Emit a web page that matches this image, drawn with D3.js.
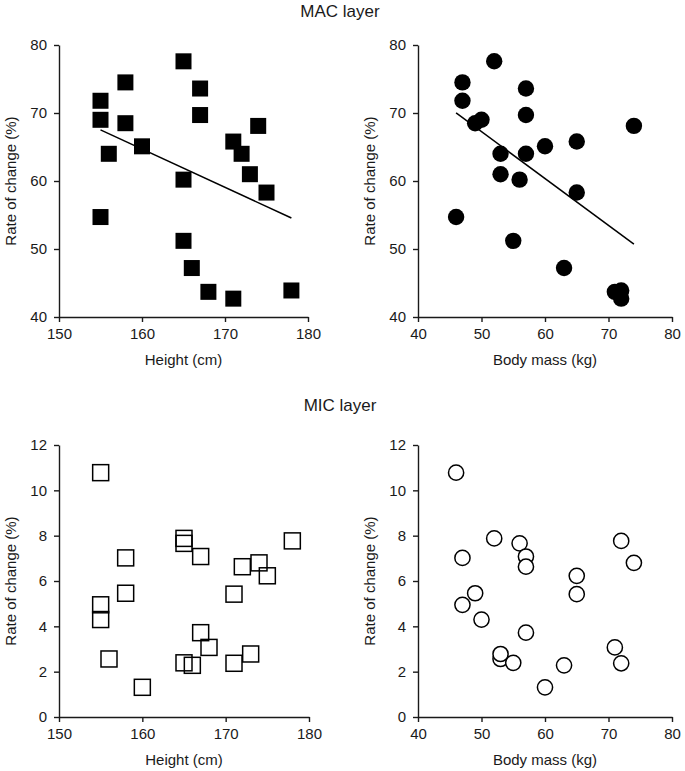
<!DOCTYPE html>
<html>
<head>
<meta charset="utf-8">
<script src="https://cdn.jsdelivr.net/npm/d3@7"></script>
<style>
  html, body { margin: 0; padding: 0; background: #fff; }
  svg { display: block; font-family: "Liberation Sans", Arial, sans-serif; }
  .tick text { fill: #1a1a1a; }
</style>
</head>
<body>
<svg id="chart" width="685" height="771"></svg>
<script>
// Subject data (same 21 subjects in all four panels)
const heights = [155, 155, 156, 155, 158, 158, 160, 165, 165, 165, 166, 167, 167, 168, 171, 171, 172, 173, 174, 175, 178];
const masses  = [47, 50, 53, 46, 47, 49, 60, 52, 56, 55, 63, 57, 57, 71, 65, 72, 57, 53, 74, 65, 72];
const macRate = [71.8, 69.0, 64.0, 54.7, 74.5, 68.5, 65.1, 77.6, 60.2, 51.2, 47.2, 73.6, 69.7, 43.7, 65.8, 42.7, 64.0, 61.0, 68.1, 58.3, 43.9];
const micRate = [4.95, 4.30, 2.56, 10.78, 7.02, 5.46, 1.31, 7.88, 7.66, 2.39, 2.28, 7.08, 3.72, 3.07, 5.42, 2.37, 6.63, 2.78, 6.80, 6.23, 7.77];

const heightTicks = [150, 160, 170, 180];
const massTicks = [40, 50, 60, 70, 80];
const macTicks = [40, 50, 60, 70, 80];
const micTicks = [0, 2, 4, 6, 8, 10, 12];

const titles = ["MAC layer", "MIC layer"];
const xLabels = ["Height (cm)", "Body mass (kg)"];
const yLabel = "Rate of change (%)";

const svg = d3.select("#chart");
const ink = "#1a1a1a";

function regression(xs, ys) {
  const mx = d3.mean(xs), my = d3.mean(ys);
  const sxy = d3.sum(xs, (x, i) => (x - mx) * (ys[i] - my));
  const sxx = d3.sum(xs, x => (x - mx) * (x - mx));
  const b = sxy / sxx;
  return { b, a: my - b * mx };
}

function panel(opts) {
  const { xs, ys, xDomain, yDomain, xTicks, yTicks, xRange, yRange, marker, filled, fit, xLabel } = opts;
  const x = d3.scaleLinear().domain(xDomain).range(xRange);
  const y = d3.scaleLinear().domain(yDomain).range(yRange);
  const g = svg.append("g");

  const xa = g.append("g").attr("transform", `translate(0,${yRange[0]})`)
    .call(d3.axisBottom(x).tickValues(xTicks).tickSize(5).tickSizeOuter(0).tickPadding(6));
  const ya = g.append("g").attr("transform", `translate(${xRange[0]},0)`)
    .call(d3.axisLeft(y).tickValues(yTicks).tickSize(5).tickSizeOuter(0).tickPadding(7));
  [xa, ya].forEach(a => {
    a.select(".domain").attr("stroke", ink).attr("stroke-width", 1.4);
    a.selectAll(".tick line").attr("stroke", ink).attr("stroke-width", 1.4);
    a.selectAll(".tick text").attr("font-size", 15).attr("fill", ink);
  });

  const pts = xs.map((v, i) => ({ x: v, y: ys[i] }));
  if (marker === "square") {
    const s = 16;
    g.selectAll("rect.pt").data(pts).enter().append("rect")
      .attr("x", d => x(d.x) - s / 2).attr("y", d => y(d.y) - s / 2)
      .attr("width", s).attr("height", s)
      .attr("fill", filled ? "#000" : "none")
      .attr("stroke", "#000").attr("stroke-width", filled ? 0 : 1.5);
  } else {
    g.selectAll("circle.pt").data(pts).enter().append("circle")
      .attr("cx", d => x(d.x)).attr("cy", d => y(d.y))
      .attr("r", filled ? 8.2 : 7.6)
      .attr("fill", filled ? "#000" : "#fff")
      .attr("stroke", "#000").attr("stroke-width", filled ? 0 : 1.5);
  }

  if (fit) {
    const { a, b } = regression(xs, ys);
    const [x0, x1] = d3.extent(xs);
    g.append("line")
      .attr("x1", x(x0)).attr("y1", y(a + b * x0))
      .attr("x2", x(x1)).attr("y2", y(a + b * x1))
      .attr("stroke", "#000").attr("stroke-width", 1.5);
  }

  g.append("text")
    .attr("x", (xRange[0] + xRange[1]) / 2).attr("y", yRange[0] + 48)
    .attr("text-anchor", "middle").attr("font-size", 15).attr("fill", ink)
    .text(xLabel);
  g.append("text")
    .attr("transform", `translate(${xRange[0] - 43},${(yRange[0] + yRange[1]) / 2}) rotate(-90)`)
    .attr("text-anchor", "middle").attr("font-size", 15).attr("fill", ink)
    .text(yLabel);
}

// Top row: MAC layer
panel({ xs: heights, ys: macRate, xDomain: [150, 180], yDomain: [40, 80], xTicks: heightTicks, yTicks: macTicks,
  xRange: [59, 308], yRange: [317, 45], marker: "square", filled: true, fit: true, xLabel: xLabels[0] });
panel({ xs: masses, ys: macRate, xDomain: [40, 80], yDomain: [40, 80], xTicks: massTicks, yTicks: macTicks,
  xRange: [418, 672], yRange: [317, 45], marker: "circle", filled: true, fit: true, xLabel: xLabels[1] });

// Bottom row: MIC layer
panel({ xs: heights, ys: micRate, xDomain: [150, 180], yDomain: [0, 12], xTicks: heightTicks, yTicks: micTicks,
  xRange: [59, 309], yRange: [717, 445], marker: "square", filled: false, fit: false, xLabel: xLabels[0] });
panel({ xs: masses, ys: micRate, xDomain: [40, 80], yDomain: [0, 12], xTicks: massTicks, yTicks: micTicks,
  xRange: [418, 672], yRange: [717, 445], marker: "circle", filled: false, fit: false, xLabel: xLabels[1] });

svg.append("text").attr("x", 340).attr("y", 17).attr("text-anchor", "middle")
  .attr("font-size", 17).attr("fill", ink).text(titles[0]);
svg.append("text").attr("x", 340).attr("y", 411).attr("text-anchor", "middle")
  .attr("font-size", 17).attr("fill", ink).text(titles[1]);
</script>
</body>
</html>
